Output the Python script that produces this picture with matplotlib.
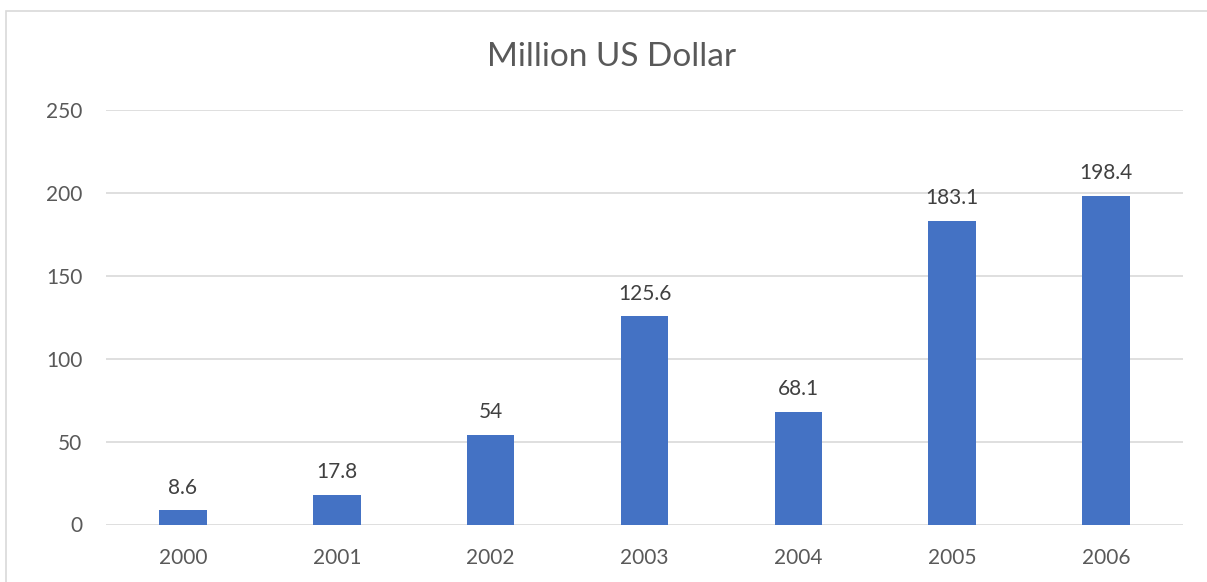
import matplotlib.pyplot as plt
from matplotlib.patches import Rectangle

years = ["2000", "2001", "2002", "2003", "2004", "2005", "2006"]
values = [8.6, 17.8, 54, 125.6, 68.1, 183.1, 198.4]
labels = ["8.6", "17.8", "54", "125.6", "68.1", "183.1", "198.4"]

plt.rcParams["font.family"] = ["Lato", "DejaVu Sans"]

fig = plt.figure(figsize=(12.07, 5.82), dpi=100)
ax = fig.add_axes([106 / 1207, 1 - 524.5 / 582, (1183 - 106) / 1207, (524.5 - 110) / 582])

# outer chart border (cut off at right and bottom)
fig.patches.append(Rectangle((6 / 1207, -0.1), 1.2, 1 - 11 / 582 + 0.1,
                             transform=fig.transFigure, fill=False,
                             edgecolor="#d9d9d9", linewidth=1.2))

x = range(len(years))
ax.bar(x, values, width=0.31, color="#4472C4", zorder=3)

for i, v in enumerate(values):
    ax.annotate(labels[i], (i, v), xytext=(0, 9), textcoords="offset points",
                ha="center", va="bottom", fontsize=15, color="#404040")

ax.set_xlim(-0.5, 6.5)
ax.set_ylim(0, 250)
ax.set_yticks([0, 50, 100, 150, 200, 250])
ax.set_xticks(list(x))
ax.set_xticklabels(years)
ax.grid(axis="y", color="#d9d9d9", linewidth=1.2, zorder=0)
ax.tick_params(axis="both", length=0, labelsize=15, labelcolor="#595959")
ax.tick_params(axis="y", pad=17)
ax.tick_params(axis="x", pad=17)
for s in ax.spines.values():
    s.set_visible(False)

fig.text(612 / 1207, 1 - 57 / 582, "Million US Dollar", ha="center", va="center",
         fontsize=24, color="#595959")

fig.savefig("out.png", dpi=100)
